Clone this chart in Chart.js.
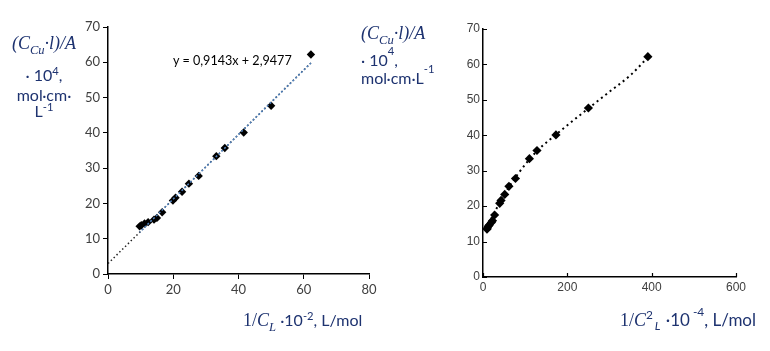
<!DOCTYPE html>
<html>
<head>
<meta charset="utf-8">
<script src="https://cdn.jsdelivr.net/npm/chart.js@4.4.1/dist/chart.umd.min.js"></script>
<style>
  html, body { margin:0; padding:0; background:#fff; }
  #wrap { position:relative; width:770px; height:351px; overflow:hidden; }
  canvas { position:absolute; }
  .t { position:absolute; color:#1e3370; font-family:Lato, "Open Sans", sans-serif; font-size:16px; white-space:nowrap; line-height:1; }
  .m { font-family:"Liberation Serif", "DejaVu Serif", serif; font-style:italic; font-size:18px; }
  sub, sup { font-size:70%; line-height:0; }
  .eq { position:absolute; font-family:Lato, sans-serif; font-size:12.6px; color:#000; white-space:nowrap; line-height:1; }
</style>
</head>
<body>
<div id="wrap">
  <canvas id="c1" width="385" height="351" style="left:0;top:0;"></canvas>
  <canvas id="c2" width="350" height="351" style="left:420px;top:0;"></canvas>

  <!-- left Y title -->
  <div class="t" style="left:0;width:88px;text-align:center;top:34px;"><span class="m">(C<sub>Cu</sub>·l)/A</span></div>
  <div class="t" style="left:0;width:88px;text-align:center;top:67px;">· 10<sup>4</sup>,</div>
  <div class="t" style="left:0;width:88px;text-align:center;top:87px;">mol·cm·</div>
  <div class="t" style="left:0;width:88px;text-align:center;top:103px;">L<sup>-1</sup></div>

  <!-- right Y title -->
  <div class="t" style="left:361px;top:24px;"><span class="m">(C<sub>Cu</sub>·l)/A</span></div>
  <div class="t" style="left:361px;top:52px;">· 10<sup style="position:relative;top:-5px;">4</sup>,</div>
  <div class="t" style="left:361px;top:70px;">mol·cm·L<sup style="position:relative;top:-5px;">-1</sup></div>

  <!-- X titles -->
  <div class="t" style="left:243px;top:311px;"><span class="m" style="font-style:normal">1/</span><span class="m">C<sub>L</sub></span> ·10<sup>-2</sup>, L/mol</div>
  <div class="t" style="left:620px;top:311px;font-size:17px;"><span class="m" style="font-style:normal">1/</span><span class="m">C</span><sup>2</sup><sub style="position:relative;left:-1px;"><i>&nbsp;L</i></sub>&nbsp;·10<sup style="position:relative;top:-3px;">&nbsp;-4</sup>, L/mol</div>

  <div class="eq" style="left:173px;top:55px;">y = 0,9143x + 2,9477</div>
</div>
<script>
// ---- data ----
const yValues   = [13.5, 13.8, 14.3, 14.7, 15.4, 15.9, 17.5, 20.8, 21.6, 23.3, 25.6, 27.8, 33.4, 35.7, 40.1, 47.7, 62.2];
const xLeft     = [9.7, 10.2, 11.2, 12.3, 14.1, 15.0, 16.6, 19.9, 20.7, 22.7, 24.8, 27.8, 33.2, 35.8, 41.6, 50.0, 62.2];
const xRight    = [9.4, 10.4, 12.5, 15.1, 19.9, 22.5, 27.6, 39.6, 42.8, 51.5, 61.5, 77, 110, 128, 173, 250, 391];
// linear trendline (left): y = 0,9143x + 2,9477
const trendBlackX = [0, 62.2];
const trendBlackY = [2.95, 59.82];
const trendBlueX  = [9.7, 62.2];
const trendBlueY  = [11.82, 59.82];
// polynomial trendline (right)
const trendRightX = [9, 20, 40, 60, 80, 110, 130, 175, 250, 300, 350, 391];
const trendRightY = [13.6, 16.6, 21.0, 25.1, 28.6, 33.2, 35.8, 40.4, 47.6, 52.3, 57.0, 62.0];
// axes
const leftXRange  = [0, 80, 20];
const rightXRange = [0, 600, 200];
const yRange      = [0, 70, 10];

const pts = (xs, ys) => xs.map((x, i) => ({x, y: ys[i]}));

function baseScale(range, fontFamily, fontSize, extra) {
  return Object.assign({
    type: 'linear', min: range[0], max: range[1],
    ticks: { stepSize: range[2], color: '#404040', font: { family: fontFamily, size: fontSize } },
    border: { display: true, color: '#000', width: 1.5 },
  }, extra);
}

// left chart
new Chart(document.getElementById('c1'), {
  type: 'scatter',
  data: {
    datasets: [
      { data: pts(xLeft, yValues), pointStyle: 'rectRot', pointRadius: 4.2, backgroundColor: '#000', borderColor: '#000', borderWidth: 0, order: 3 },
      { data: pts(trendBlackX, trendBlackY), showLine: true, pointRadius: 0, borderColor: '#222', borderWidth: 1.5, borderDash: [1.5, 2.5], order: 2 },
      { data: pts(trendBlueX, trendBlueY), showLine: true, pointRadius: 0, borderColor: '#4f81bd', borderWidth: 1.5, borderDash: [2, 2], borderDashOffset: 1, order: 1 }
    ]
  },
  options: {
    responsive: false, animation: false, devicePixelRatio: 1,
    layout: { padding: { top: 27, right: 16, left: 0, bottom: 0 } },
    plugins: { legend: { display: false }, tooltip: { enabled: false } },
    scales: {
      x: baseScale(leftXRange, 'Lato', 13, {
        grid: { display: true, drawOnChartArea: false, drawTicks: true, tickLength: 5, color: '#000' },
        afterFit(s) { s.height = 77; }
      }),
      y: baseScale(yRange, 'Lato', 13, {
        grid: { display: true, drawOnChartArea: false, drawTicks: true, tickLength: 5, color: '#000' },
        afterFit(s) { s.width = 108; }
      })
    }
  }
});

// inside tick marks for the right chart
const insideTicks = {
  id: 'insideTicks',
  afterDraw(chart) {
    const { ctx, chartArea, scales } = chart;
    ctx.save();
    ctx.strokeStyle = '#000';
    ctx.lineWidth = 1.2;
    ctx.beginPath();
    scales.x.ticks.forEach(t => {
      const px = Math.round(scales.x.getPixelForValue(t.value)) + 0.5;
      ctx.moveTo(px, chartArea.bottom); ctx.lineTo(px, chartArea.bottom - 4);
    });
    scales.y.ticks.forEach(t => {
      const py = Math.round(scales.y.getPixelForValue(t.value)) + 0.5;
      ctx.moveTo(chartArea.left, py); ctx.lineTo(chartArea.left + 4, py);
    });
    ctx.stroke();
    ctx.restore();
  }
};

new Chart(document.getElementById('c2'), {
  type: 'scatter',
  data: {
    datasets: [
      { data: pts(xRight, yValues), pointStyle: 'rectRot', pointRadius: 4.6, backgroundColor: '#000', borderColor: '#000', borderWidth: 0, order: 2 },
      { data: pts(trendRightX, trendRightY), showLine: true, cubicInterpolationMode: 'monotone', pointRadius: 0, borderColor: '#000', borderWidth: 2, borderDash: [2, 3.5], order: 1 }
    ]
  },
  options: {
    responsive: false, animation: false, devicePixelRatio: 1,
    layout: { padding: { top: 29, right: 34, left: 0, bottom: 0 } },
    plugins: { legend: { display: false }, tooltip: { enabled: false } },
    scales: {
      x: baseScale(rightXRange, 'Liberation Sans', 12, {
        grid: { display: false, drawTicks: false },
        afterFit(s) { s.height = 74; }
      }),
      y: baseScale(yRange, 'Liberation Sans', 12, {
        grid: { display: false, drawTicks: false },
        afterFit(s) { s.width = 63; }
      })
    }
  },
  plugins: [insideTicks]
});
</script>
</body>
</html>
